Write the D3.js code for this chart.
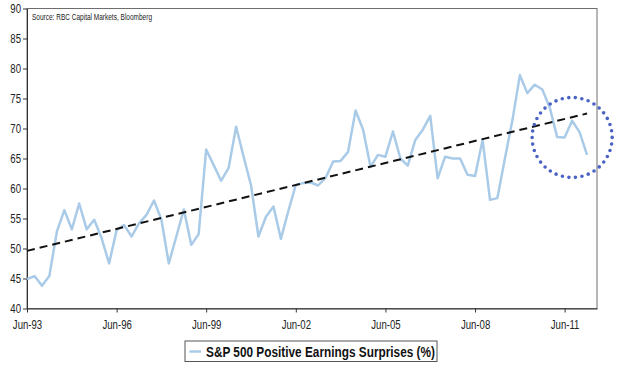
<!DOCTYPE html>
<html>
<head>
<meta charset="utf-8">
<script src="https://cdnjs.cloudflare.com/ajax/libs/d3/7.8.5/d3.min.js"></script>
<style>
  body { margin: 0; background: #fff; }
  text { font-family: "Liberation Sans", Arial, sans-serif; }
</style>
</head>
<body>
<script>
const w = 623;
const h = 376;

// quarterly readings, first one is Jun-93
const firstQuarter = new Date(1993, 5, 1);
const surprises = [
  44.9, 45.4, 43.8, 45.4, 52.8, 56.4, 53.2, 57.5, 53.2, 54.8,
  51.7, 47.5, 53.1, 53.9, 52.0, 54.2, 55.6, 58.0, 54.8, 47.5,
  52.0, 56.5, 50.6, 52.4, 66.5, 63.9, 61.3, 63.4, 70.3, 65.3,
  60.5, 52.0, 55.3, 57.0, 51.6, 56.2, 60.6, 60.9, 61.0, 60.5,
  61.8, 64.5, 64.6, 66.1, 73.0, 69.8, 63.6, 65.6, 65.3, 69.5,
  65.0, 63.8, 68.1, 69.8, 72.1, 61.7, 65.3, 65.0, 65.0, 62.3,
  62.1, 68.1, 58.1, 58.4, 65.0, 71.4, 78.9, 75.9, 77.3, 76.5,
  73.5, 68.6, 68.5, 71.3, 69.4, 65.6
];
// trend line end values (first and last quarter)
const trendValues = [49.6, 72.5];

const yTicks = [40, 45, 50, 55, 60, 65, 70, 75, 80, 85, 90];
const xTickYears = [1993, 1996, 1999, 2002, 2005, 2008, 2011];
const seriesName = "S&P 500 Positive Earnings Surprises (%)";
const sourceNote = "Source: RBC Capital Markets, Bloomberg";
// highlighted area (date, value) for the dotted circle
const highlight = [new Date(2011, 8, 1), 68.5];

const dataset = surprises.map((v, i) => [d3.timeMonth.offset(firstQuarter, i * 3), v]);
const lastDate = dataset[dataset.length - 1][0];

const padLeft = 27, padRight = 597, padTop = 8.5, padBottom = 308.5;
const narrow = 0.8; // the original uses a condensed face

const xScale = d3.scaleTime()
    .domain([firstQuarter, new Date(2012, 6, 1)])
    .range([padLeft, padRight]);

const yScale = d3.scaleLinear()
    .domain([40, 90])
    .range([padBottom, padTop]);

const svg = d3.select("body")
    .append("svg")
    .attr("width", w)
    .attr("height", h);

// squeeze a text element to a narrower width
function condense(sel, factor) {
    sel.each(function() {
        const len = this.getComputedTextLength();
        d3.select(this)
            .attr("textLength", len * factor)
            .attr("lengthAdjust", "spacingAndGlyphs");
    });
}

// frame
svg.append("rect")
    .attr("x", padLeft)
    .attr("y", padTop)
    .attr("width", padRight - padLeft)
    .attr("height", padBottom - padTop)
    .attr("fill", "none")
    .attr("stroke", "#6e6e6e")
    .attr("stroke-width", 1);

const xAxis = d3.axisBottom(xScale)
    .tickValues(xTickYears.map(y => new Date(y, 5, 1)))
    .tickFormat(d3.timeFormat("%b-%y"))
    .tickSize(4)
    .tickSizeOuter(0);

const yAxis = d3.axisLeft(yScale)
    .tickValues(yTicks)
    .tickSize(4)
    .tickSizeOuter(0);

const gx = svg.append("g")
    .attr("class", "x axis")
    .attr("transform", `translate(0, ${padBottom})`)
    .call(xAxis);

const gy = svg.append("g")
    .attr("class", "y axis")
    .attr("transform", `translate(${padLeft}, 0)`)
    .call(yAxis);

[gx, gy].forEach(g => {
    g.select(".domain").attr("stroke", "#333");
    g.selectAll(".tick line").attr("stroke", "#333");
    g.selectAll(".tick text")
        .attr("fill", "#222")
        .style("font-size", "12px")
        .style("font-family", "'Liberation Sans', Arial, sans-serif");
});
gx.selectAll(".tick text").attr("dy", "1.15em");
gy.selectAll(".tick text").attr("x", -6);
condense(gx.selectAll(".tick text"), narrow);
condense(gy.selectAll(".tick text"), narrow);

// source note
svg.append("text")
    .attr("x", 32)
    .attr("y", 20)
    .attr("fill", "#222")
    .style("font-size", "8.5px")
    .attr("textLength", 120)
    .attr("lengthAdjust", "spacingAndGlyphs")
    .text(sourceNote);

// series line
const line = d3.line()
    .x(d => xScale(d[0]))
    .y(d => yScale(d[1]));

svg.append("path")
    .datum(dataset)
    .attr("d", line)
    .attr("fill", "none")
    .attr("stroke", "#a9cbe8")
    .attr("stroke-width", 2.5)
    .attr("stroke-linejoin", "round");

// trend line
svg.append("line")
    .attr("x1", xScale(firstQuarter))
    .attr("y1", yScale(trendValues[0]))
    .attr("x2", xScale(lastDate))
    .attr("y2", yScale(trendValues[1]))
    .attr("stroke", "#111")
    .attr("stroke-width", 2)
    .attr("stroke-dasharray", "8,5");

// dotted highlight circle
svg.append("circle")
    .attr("cx", xScale(highlight[0]))
    .attr("cy", yScale(highlight[1]))
    .attr("r", 40)
    .attr("fill", "none")
    .attr("stroke", "#4a62c4")
    .attr("stroke-width", 3.6)
    .attr("stroke-linecap", "round")
    .attr("stroke-dasharray", "0,6.6");

// legend
const legend = svg.append("g")
    .attr("transform", "translate(185, 341)");

legend.append("rect")
    .attr("width", 252)
    .attr("height", 20.5)
    .attr("fill", "#fff")
    .attr("stroke", "#555")
    .attr("stroke-width", 1);

legend.append("line")
    .attr("x1", 4.5)
    .attr("x2", 16)
    .attr("y1", 10.5)
    .attr("y2", 10.5)
    .attr("stroke", "#a9cbe8")
    .attr("stroke-width", 2.5);

legend.append("text")
    .attr("x", 21)
    .attr("y", 15.8)
    .attr("fill", "#111")
    .style("font-size", "14px")
    .style("font-weight", "bold")
    .attr("textLength", 229)
    .attr("lengthAdjust", "spacingAndGlyphs")
    .text(seriesName);
</script>
</body>
</html>
